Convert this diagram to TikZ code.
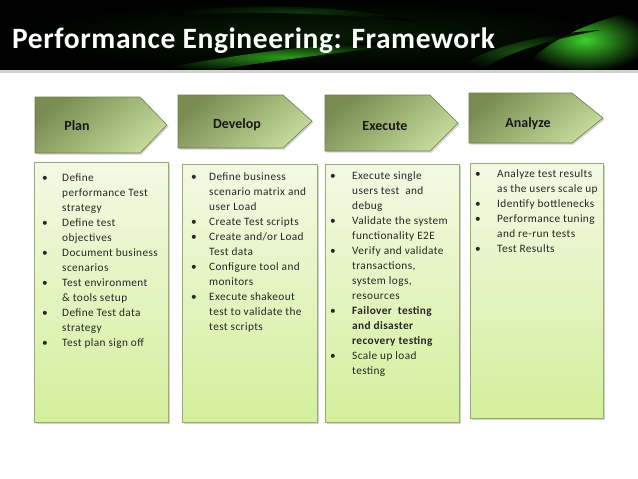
\documentclass[tikz,border=0pt]{standalone}
\usepackage{fontspec}
\setmainfont{Carlito}
\newfontfamily\bodyfont[LetterSpace=3.5]{Carlito}
\newfontfamily\titlefont[LetterSpace=2]{Carlito}
\usetikzlibrary{shadows}
\definecolor{pentdark}{HTML}{7A8C52}
\definecolor{pentlight}{HTML}{C4DB9C}
\definecolor{pentborder}{HTML}{6E7D48}
\definecolor{boxtop}{HTML}{F4F9E4}
\definecolor{boxbottom}{HTML}{D3EF9C}
\definecolor{boxborder}{HTML}{9AAA72}
\definecolor{swoosh}{HTML}{3FD12A}
\tikzset{
  pent/.style={draw=pentborder, line width=0.6pt, top color=pentdark, bottom color=pentlight, shading angle=40,
    drop shadow={shadow xshift=1.5pt, shadow yshift=-1.5pt, opacity=0.35}},
  txtbox/.style={draw=boxborder, line width=0.6pt, top color=boxtop, bottom color=boxbottom,
    drop shadow={shadow xshift=1.5pt, shadow yshift=-1.5pt, opacity=0.35}},
  plabel/.style={font=\fontsize{14}{16}\selectfont\bfseries, text=black!90, inner sep=0pt},
  blist/.style={anchor=base west, inner sep=0pt, font=\bodyfont\fontsize{11.3}{15}\selectfont, text=black!85}
}
\newcommand\bl{\textbullet}
\begin{document}
\begin{tikzpicture}[x=1pt,y=-1pt]
\useasboundingbox (0,0) rectangle (638,479);
\fill[white] (0,0) rectangle (638,479);
% header
\begin{scope}
\clip (0,0) rectangle (638,70);
\fill[black] (0,0) rectangle (638,70);
\fill[inner color=swoosh!60!black, outer color=black, opacity=0.5] (0,0) rectangle (638,70);
\fill[black, opacity=0.55] (0,0) rectangle (638,70);
\fill[inner color=swoosh!85!black, outer color=black, opacity=0.85]
  (140,72) .. controls (240,54) and (330,40) .. (430,42) .. controls (340,52) and (250,64) .. (190,74) -- cycle;
\fill[inner color=swoosh, outer color=black]
  (520,72) .. controls (545,40) and (590,20) .. (650,8) -- (650,72) -- cycle;
\fill[inner color=swoosh!50!black, outer color=black, opacity=0.5]
  (170,12) .. controls (260,2) and (350,6) .. (420,22) .. controls (340,14) and (260,10) .. (170,16) -- cycle;
\fill[inner color=swoosh!70!black, outer color=black, opacity=0.6]
  (450,72) .. controls (480,50) and (530,35) .. (600,30) .. controls (540,42) and (500,55) .. (480,72) -- cycle;
\end{scope}
\fill[black!18] (0,70) rectangle (638,73);
\node[anchor=base west, inner sep=0pt, text=white, font=\titlefont\fontsize{29.5}{32}\selectfont\bfseries] (title) at (12,48) {Performance Engineering: Framework};
% pentagons
\path[pent] (35,97) -- (140,97) -- (167,125) -- (140,153) -- (35,153) -- cycle;
\path[pent] (178,95) -- (283,95) -- (312,121) -- (283,148) -- (178,148) -- cycle;
\path[pent] (325,95) -- (430,95) -- (458,123) -- (430,151) -- (325,151) -- cycle;
\path[pent] (469,93) -- (572,93) -- (603,118) -- (572,143) -- (469,143) -- cycle;
\node[plabel] (plan) at (77,126) {Plan};
\node[plabel] (develop) at (237,125) {Develop};
\node[plabel] (execute) at (385,126) {Execute};
\node[plabel] (analyze) at (528,124) {Analyze};
% text boxes
\path[txtbox] (34,162) rectangle (168,422);
\path[txtbox] (182,164) rectangle (317,422);
\path[txtbox] (325,164) rectangle (459,422);
\path[txtbox] (470,163) rectangle (603,418);
\node[blist] (plantext) at (42,181) {\begin{tabular}[t]{@{}p{20pt}@{}l@{}}
\bl & Define\\
 & performance Test\\
 & strategy\\
\bl & Define test\\
 & objectives\\
\bl & Document business\\
 & scenarios\\
\bl & Test environment\\
 & \& tools setup\\
\bl & Define Test data\\
 & strategy\\
\bl & Test plan sign off
\end{tabular}};
\node[blist] (devtext) at (191,180) {\begin{tabular}[t]{@{}p{18pt}@{}l@{}}
\bl & Define business\\
 & scenario matrix and\\
 & user Load\\
\bl & Create Test scripts\\
\bl & Create and/or Load\\
 & Test data\\
\bl & Configure tool and\\
 & monitors\\
\bl & Execute shakeout\\
 & test to validate the\\
 & test scripts
\end{tabular}};
\node[blist] (exectext) at (330,179) {\begin{tabular}[t]{@{}p{22pt}@{}l@{}}
\bl & Execute single\\
 & users test~ and\\
 & debug\\
\bl & Validate the system\\
 & functionality E2E\\
\bl & Verify and validate\\
 & transactions,\\
 & system logs,\\
 & resources\\
\bl & \textbf{Failover~ testing}\\
 & \textbf{and disaster}\\
 & \textbf{recovery testing}\\
\bl & Scale up load\\
 & testing
\end{tabular}};
\node[blist] (anatext) at (475,177) {\begin{tabular}[t]{@{}p{22pt}@{}l@{}}
\bl & Analyze test results\\
 & as the users scale up\\
\bl & Identify bottlenecks\\
\bl & Performance tuning\\
 & and re-run tests\\
\bl & Test Results
\end{tabular}};
\end{tikzpicture}
\end{document}
